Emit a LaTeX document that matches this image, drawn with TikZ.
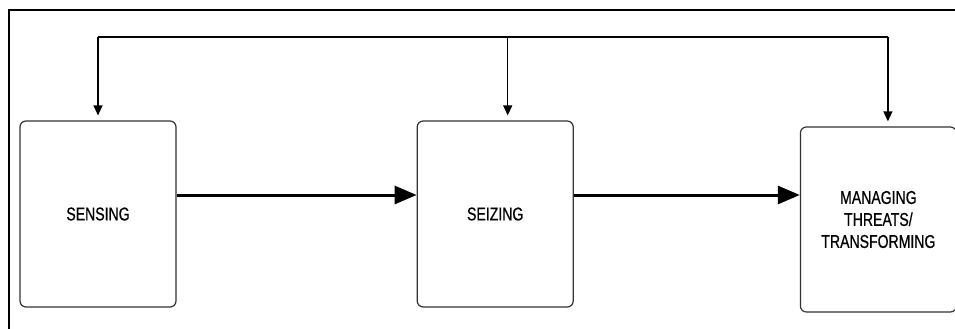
\documentclass[tikz,border=0pt]{standalone}
\usepackage{fontspec}
\setmainfont{Liberation Sans}[FakeStretch=0.76,FakeBold=0.6]
\usetikzlibrary{arrows.meta,positioning}

\begin{document}
\begin{tikzpicture}[x=1pt, y=-1pt, node distance = 240pt,
                    stage/.style = {draw=black!80, line width=1.2pt, rounded corners=6pt,
                      minimum width=156pt, minimum height=186pt, inner sep=0pt,
                      align=center, font=\fontsize{18.5}{22}\selectfont},
                    flow/.style = {line width=3pt, -{Triangle[length=22pt,width=18pt]}},
                    feed/.style = {line width=1.3pt, -{Triangle[length=10pt,width=9pt]}}]
\useasboundingbox (0,0) rectangle (955,329);
\draw[line width=2pt] (9,329) -- (9,10) -- (955,10);
    \node[stage] (sensing) at (98,214) {SENSING};
\node[stage, right= of sensing] (seizing) {SEIZING};
\node[stage, right=226pt of seizing, yshift=-5.5pt, minimum height=185pt] (managing) {MANAGING\\THREATS/\\TRANSFORMING};
    % feedback bus on top
\coordinate (bus) at (0,37);
\draw[line width=1.3pt] (sensing.north |- bus) -- ([xshift=9.5pt]managing.north |- bus);
\draw[feed] (sensing.north |- bus) -- ([yshift=5pt]sensing.north);
\draw[feed] ([xshift=12.5pt]seizing.north |- bus) -- ([xshift=12.5pt,yshift=5pt]seizing.north);
\draw[feed] ([xshift=9.5pt]managing.north |- bus) -- ([xshift=9.5pt,yshift=5pt]managing.north);
    % main flow
\coordinate (flowline) at ([yshift=19pt]sensing.east);
\draw[flow] (flowline) -- (flowline -| seizing.west);
\draw[flow] (flowline -| seizing.east) -- (flowline -| managing.west);
\end{tikzpicture}
\end{document}
